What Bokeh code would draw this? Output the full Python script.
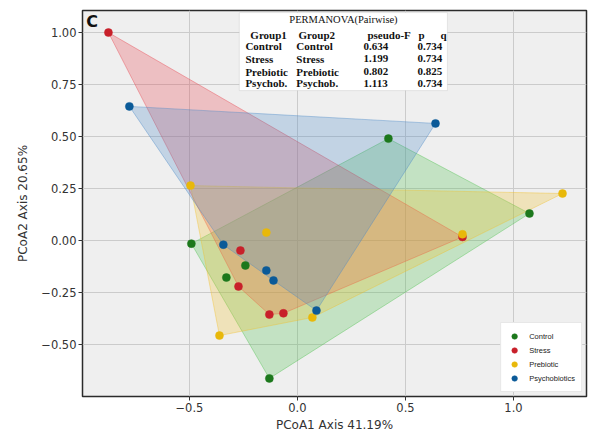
from bokeh.plotting import figure
from bokeh.models import Label, FixedTicker, Range1d, BoxAnnotation, Legend, LegendItem, CustomJSTickFormatter
from bokeh.embed import file_html
from bokeh.resources import INLINE

# ---- data ----
groups = ["Control", "Stress", "Prebiotic", "Psychobiotics"]
colors = ["#1c781c", "#c8202a", "#e8b80a", "#0b5a98"]
hull_colors = ["#4cc04c", "#e8404a", "#f2c02a", "#4a8ac8"]

control_x = [-0.491, 0.421, 1.074, -0.130, -0.241, -0.329]
control_y = [-0.015, 0.490, 0.130, -0.663, -0.120, -0.178]
stress_x = [-0.875, 0.764, -0.264, -0.273, -0.130, -0.065]
stress_y = [1.000, 0.017, -0.048, -0.221, -0.356, -0.350]
prebiotic_x = [-0.495, 1.227, -0.144, 0.069, -0.361, 0.764]
prebiotic_y = [0.264, 0.226, 0.038, -0.370, -0.457, 0.030]
psycho_x = [-0.778, 0.639, -0.343, -0.144, -0.111, 0.088]
psycho_y = [0.645, 0.563, -0.020, -0.144, -0.192, -0.337]

table_title = "PERMANOVA(Pairwise)"
table_header = ["Group1", "Group2", "pseudo-F", "p", "q"]
table_group1 = ["Control", "Stress", "Prebiotic", "Psychob."]
table_group2 = ["Control", "Stress", "Prebiotic", "Psychob."]
table_pseudo_f = ["0.634", "1.199", "0.802", "1.113"]
table_q = ["0.734", "0.734", "0.825", "0.734"]

x_ticks = [-0.5, 0.0, 0.5, 1.0]
y_ticks = [-0.5, -0.25, 0.0, 0.25, 0.5, 0.75, 1.0]

series_x = [control_x, stress_x, prebiotic_x, psycho_x]
series_y = [control_y, stress_y, prebiotic_y, psycho_y]


def convex_hull(xs, ys):
    pts = sorted(set(zip(xs, ys)))
    if len(pts) <= 2:
        return pts

    def cross(o, a, b):
        return (a[0] - o[0]) * (b[1] - o[1]) - (a[1] - o[1]) * (b[0] - o[0])

    lower = []
    for pt in pts:
        while len(lower) >= 2 and cross(lower[-2], lower[-1], pt) <= 0:
            lower.pop()
        lower.append(pt)
    upper = []
    for pt in reversed(pts):
        while len(upper) >= 2 and cross(upper[-2], upper[-1], pt) <= 0:
            upper.pop()
        upper.append(pt)
    return lower[:-1] + upper[:-1]


p = figure(frame_width=504, frame_height=386, output_backend="svg", toolbar_location=None,
           x_range=Range1d(-0.995, 1.338), y_range=Range1d(-0.75, 1.106),
           min_border_left=82, min_border_right=2, min_border_top=10, min_border_bottom=5)

p.background_fill_color = "#efefef"
p.border_fill_color = "white"
p.outline_line_color = "#2b2b2b"
p.outline_line_width = 1.5

p.xgrid.ticker = FixedTicker(ticks=x_ticks)
p.ygrid.ticker = FixedTicker(ticks=y_ticks)
for g in (p.xgrid, p.ygrid):
    g.grid_line_color = "#cbcbcb"
    g.grid_line_width = 1

for ax, ticks, digits in ((p.xaxis, x_ticks, 1), (p.yaxis, y_ticks, 2)):
    ax.ticker = FixedTicker(ticks=ticks)
    ax.formatter = CustomJSTickFormatter(code="return tick.toFixed(%d).replace('-', '\\u2212');" % digits)
    ax.axis_line_color = None
    ax.major_tick_line_color = "#333333"
    ax.major_tick_out = 4
    ax.major_tick_in = 0
    ax.minor_tick_line_color = None
    ax.major_label_text_font = "DejaVu Sans"
    ax.major_label_text_font_size = "11.5px"
    ax.major_label_text_color = "#333333"
    ax.axis_label_text_font = "DejaVu Sans"
    ax.axis_label_text_font_size = "12px"
    ax.axis_label_text_font_style = "normal"
    ax.axis_label_text_color = "#333333"
    ax.major_label_standoff = 2
    ax.axis_label_standoff = 3

p.xaxis.axis_label = "PCoA1 Axis 41.19%"
p.yaxis.axis_label = "PCoA2 Axis 20.65%"
p.yaxis.axis_label_standoff = 8

# hulls
for xs, ys, c in zip(series_x, series_y, hull_colors):
    hull = convex_hull(xs, ys)
    p.patch([h[0] for h in hull], [h[1] for h in hull], fill_color=c, fill_alpha=0.27,
            line_color=c, line_alpha=0.4, line_width=1)

items = []
for xs, ys, c, name in zip(series_x, series_y, colors, groups):
    r = p.scatter(xs, ys, size=8, fill_color=c, line_color=c, line_width=0.5)
    items.append(LegendItem(label=name, renderers=[r]))

legend = Legend(items=items, location="bottom_right")
legend.label_text_font = "Liberation Sans"
legend.label_text_font_size = "7.5px"
legend.label_text_color = "#222222"
legend.glyph_height = 14
legend.glyph_width = 14
legend.label_height = 14
legend.spacing = 0
legend.padding = 6
legend.margin = 4
legend.label_standoff = 8
legend.border_line_color = "#d0d0d0"
legend.background_fill_color = "white"
legend.background_fill_alpha = 1.0
p.add_layout(legend)

# panel letter
p.add_layout(Label(x=-0.978, y=1.055, text="C", text_font="DejaVu Sans", text_font_style="bold",
                   text_font_size="16px", text_color="#111111", text_baseline="middle"))

# PERMANOVA table
p.add_layout(BoxAnnotation(left=-0.269, right=0.694, top=1.096, bottom=0.721,
                           fill_color="white", fill_alpha=1.0, line_color="#bbbbbb", line_width=1))

serif = "Liberation Serif"
p.add_layout(Label(x=0.213, y=1.062, text=table_title, text_font=serif, text_font_size="10.5px",
                   text_align="center", text_baseline="middle", text_color="#111111"))
hdr_x = [-0.218, 0.005, 0.324, 0.560, 0.662]
for hx, t in zip(hdr_x, table_header):
    p.add_layout(Label(x=hx, y=0.990, text=t, text_font=serif, text_font_style="bold",
                       text_font_size="11px", text_baseline="middle", text_color="#111111"))
row_y = [0.933, 0.875, 0.8125, 0.755]
col_x = [-0.241, -0.005, 0.306, 0.556]
for i, ry in enumerate(row_y):
    for cx, col in zip(col_x, (table_group1, table_group2, table_pseudo_f, table_q)):
        p.add_layout(Label(x=cx, y=ry, text=col[i], text_font=serif, text_font_style="bold",
                           text_font_size="11px", text_baseline="middle", text_color="#111111"))

open("out.html", "w").write(file_html(p, INLINE))
